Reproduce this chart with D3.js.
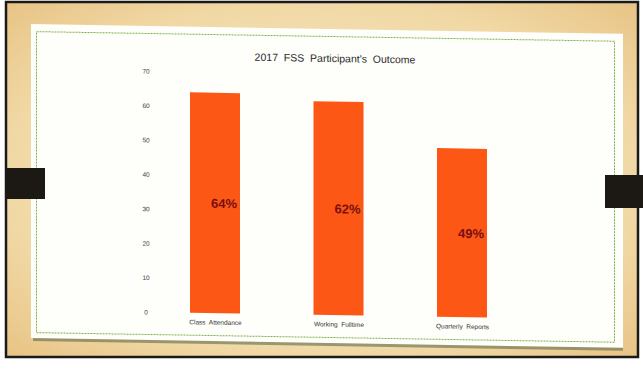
<!DOCTYPE html>
<html>
<head>
<meta charset="utf-8">
<script src="https://cdn.jsdelivr.net/npm/d3@7"></script>
<style>
  body { margin: 0; background: #fff; }
  svg { display: block; }
</style>
</head>
<body>
<div id="chart"></div>
<script>
// chart data
const categories = ["Class  Attendance", "Working  Fulltime", "Quarterly  Reports"];
const values = [64, 62, 49];
const valueLabels = ["64%", "62%", "49%"];
const yTicks = [0, 10, 20, 30, 40, 50, 60, 70];
const title = "2017  FSS  Participant's  Outcome";

const W = 643, H = 370;

let svg = d3.select("#chart")
    .append("svg")
    .attr("width", W)
    .attr("height", H);

// scanned background
let defs = svg.append("defs");
let grad = defs.append("radialGradient")
    .attr("id", "tan")
    .attr("cx", "50%").attr("cy", "50%").attr("r", "70%");
grad.append("stop").attr("offset", "0%").attr("stop-color", "#f8ecd2");
grad.append("stop").attr("offset", "70%").attr("stop-color", "#f1d9a6");
grad.append("stop").attr("offset", "100%").attr("stop-color", "#e8c486");

svg.append("rect")
    .attr("x", 6).attr("y", 2)
    .attr("width", 632).attr("height", 355)
    .attr("fill", "url(#tan)")
    .attr("stroke", "#1a1a1a")
    .attr("stroke-width", 2.5);

// paper, skewed slightly like the photo
let paper = svg.append("g")
    .attr("transform", "translate(330,190) skewY(0.95) translate(-330,-190)");

paper.append("rect")
    .attr("x", 33).attr("y", 33)
    .attr("width", 590).attr("height", 313)
    .attr("fill", "#5f6b4a")
    .attr("opacity", 0.6);

paper.append("rect")
    .attr("x", 31).attr("y", 29)
    .attr("width", 592).attr("height", 314)
    .attr("fill", "#fefefb");

paper.append("rect")
    .attr("x", 36.5).attr("y", 36.5)
    .attr("width", 578).attr("height", 301)
    .attr("fill", "none")
    .attr("stroke", "#7fb04a")
    .attr("stroke-width", 1)
    .attr("stroke-dasharray", "2,1");

let x = d3.scalePoint()
    .domain(categories)
    .range([215, 462]);

let y = d3.scaleLinear()
    .domain([0, 70])
    .range([315, 74]);

const barW = 50;

paper.append("text")
    .attr("x", 335)
    .attr("y", 62)
    .attr("text-anchor", "middle")
    .style("font-family", "Liberation Sans, Arial, sans-serif")
    .style("font-size", "10.5px")
    .style("fill", "#2a2a2a")
    .style("white-space", "pre")
    .text(title);

// y axis: labels only
let yAxis = paper.append("g")
    .attr("transform", "translate(146,0)")
    .call(d3.axisLeft(y).tickValues(yTicks).tickSize(0).tickPadding(0));
yAxis.select(".domain").remove();
yAxis.selectAll("text")
    .attr("text-anchor", "middle")
    .style("font-family", "Liberation Sans, Arial, sans-serif")
    .style("font-size", "6.5px")
    .style("fill", "#444");

paper.selectAll(".bar")
    .data(values)
    .enter()
    .append("rect")
    .attr("class", "bar")
    .attr("x", (d, i) => x(categories[i]) - barW / 2)
    .attr("y", d => y(d))
    .attr("width", barW)
    .attr("height", d => y(0) - y(d))
    .attr("fill", "#fd5716");

paper.selectAll(".vlabel")
    .data(values)
    .enter()
    .append("text")
    .attr("class", "vlabel")
    .attr("x", (d, i) => x(categories[i]) + 9)
    .attr("y", d => (y(d) + y(0)) / 2 + 5)
    .attr("text-anchor", "middle")
    .style("font-family", "Liberation Sans, Arial, sans-serif")
    .style("font-weight", "bold")
    .style("font-size", "13px")
    .style("fill", "#7a0f10")
    .text((d, i) => valueLabels[i]);

let xAxis = paper.append("g")
    .attr("transform", "translate(0," + y(0) + ")")
    .call(d3.axisBottom(x).tickSize(0).tickPadding(7));
xAxis.select(".domain").remove();
xAxis.selectAll("text")
    .style("font-family", "Liberation Sans, Arial, sans-serif")
    .style("font-size", "6.5px")
    .style("fill", "#333")
    .style("white-space", "pre");

// binder clips
svg.append("rect")
    .attr("x", 6).attr("y", 168)
    .attr("width", 39).attr("height", 31)
    .attr("fill", "#1c1814");
svg.append("rect")
    .attr("x", 605).attr("y", 175)
    .attr("width", 38).attr("height", 33)
    .attr("fill", "#1c1814");
</script>
</body>
</html>
